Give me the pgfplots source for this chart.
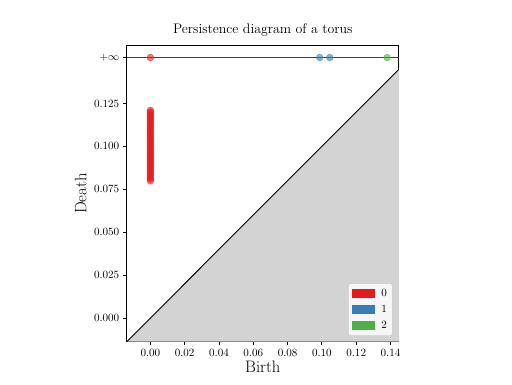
\documentclass[border=0pt]{standalone}
\usepackage{pgfplots}
\pgfplotsset{compat=1.18}
\definecolor{cred}{RGB}{228,26,28}
\definecolor{cblue}{RGB}{55,126,184}
\definecolor{cgreen}{RGB}{77,175,74}
\definecolor{lgray}{RGB}{211,211,211}
\definecolor{lframe}{RGB}{204,204,204}
\begin{document}
\begin{tikzpicture}[x=0.9bp,y=0.9bp]
\useasboundingbox (-126.7,-42.3) rectangle (385.3,341.7);
\begin{axis}[at={(0,0)}, anchor=south west, scale only axis,
  width=245bp, height=266.4bp,
  xmin=-0.0138, xmax=0.1449, ymin=-0.0138, ymax=0.1587,
  axis line style={line width=0.8bp},
  tick align=outside, major tick length=3.2bp,
  xtick pos=bottom, ytick pos=left,
  tick style={black, line width=0.8bp},
  xtick={0,0.02,0.04,0.06,0.08,0.10,0.12,0.14},
  xticklabels={0.00,0.02,0.04,0.06,0.08,0.10,0.12,0.14},
  ytick={0,0.025,0.05,0.075,0.1,0.125,0.1518},
  yticklabels={0.000,0.025,0.050,0.075,0.100,0.125,$+\infty$},
  ticklabel style={font=\fontsize{10}{12}\selectfont},
  title={Persistence diagram of a torus},
  title style={font=\fontsize{12.5}{15}\selectfont, yshift=-1bp},
  xlabel={Birth}, ylabel={Death},
  label style={font=\fontsize{15}{18}\selectfont},
  xlabel style={yshift=3bp},
  legend style={at={(1,0)}, anchor=south east, xshift=-5.7bp, yshift=5.4bp,
    fill=white, fill opacity=0.8, text opacity=1, draw=lframe, rounded corners=1.5bp,
    font=\fontsize{10}{12}\selectfont, row sep=2.2bp, inner xsep=3bp, inner ysep=3bp,
    /tikz/every odd column/.append style={column sep=4bp}},
  legend image code/.code={\fill[#1, sharp corners, fill opacity=1, draw=none] (0bp,-3.8bp) rectangle (20.7bp,3.8bp);},
  legend cell align=left,
]
\addlegendimage{fill=cred}
\addlegendentry{0}
\addlegendimage{fill=cblue}
\addlegendentry{1}
\addlegendimage{fill=cgreen}
\addlegendentry{2}
\addplot[fill=lgray, draw=none, forget plot] coordinates {(-0.0138,-0.0138) (0.1449,0.1449) (0.1449,-0.0138)} -- cycle;
\addplot[black, line width=0.8bp, forget plot] coordinates {(-0.0138,-0.0138) (0.1449,0.1449)};
\addplot[black!75, line width=0.7bp, forget plot] coordinates {(-0.0138,0.1518) (0.1449,0.1518)};
\addplot[only marks, mark=*, mark size=3.1bp, mark options={fill=cred, draw=cred, fill opacity=0.6, draw opacity=0.6}, forget plot] coordinates {
(0,0.1518)
(0,0.0800) (0,0.0810) (0,0.0820) (0,0.0830) (0,0.0840) (0,0.0850) (0,0.0860) (0,0.0870)
(0,0.0880) (0,0.0890) (0,0.0900) (0,0.0910) (0,0.0920) (0,0.0930) (0,0.0940) (0,0.0950)
(0,0.0960) (0,0.0970) (0,0.0980) (0,0.0990) (0,0.1000) (0,0.1010) (0,0.1020) (0,0.1030)
(0,0.1040) (0,0.1050) (0,0.1060) (0,0.1070) (0,0.1080) (0,0.1090) (0,0.1100) (0,0.1110)
(0,0.1120) (0,0.1130) (0,0.1140) (0,0.1150) (0,0.1160) (0,0.1170) (0,0.1180) (0,0.1190)
(0,0.1200) (0,0.1210)
};
\addplot[only marks, mark=*, mark size=3.1bp, mark options={fill=cblue, draw=cblue, fill opacity=0.6, draw opacity=0.6}, forget plot] coordinates {
(0.0987,0.1518) (0.1046,0.1518)
};
\addplot[only marks, mark=*, mark size=3.1bp, mark options={fill=cgreen, draw=cgreen, fill opacity=0.6, draw opacity=0.6}, forget plot] coordinates {
(0.1380,0.1518)
};
\end{axis}
\end{tikzpicture}
\end{document}
